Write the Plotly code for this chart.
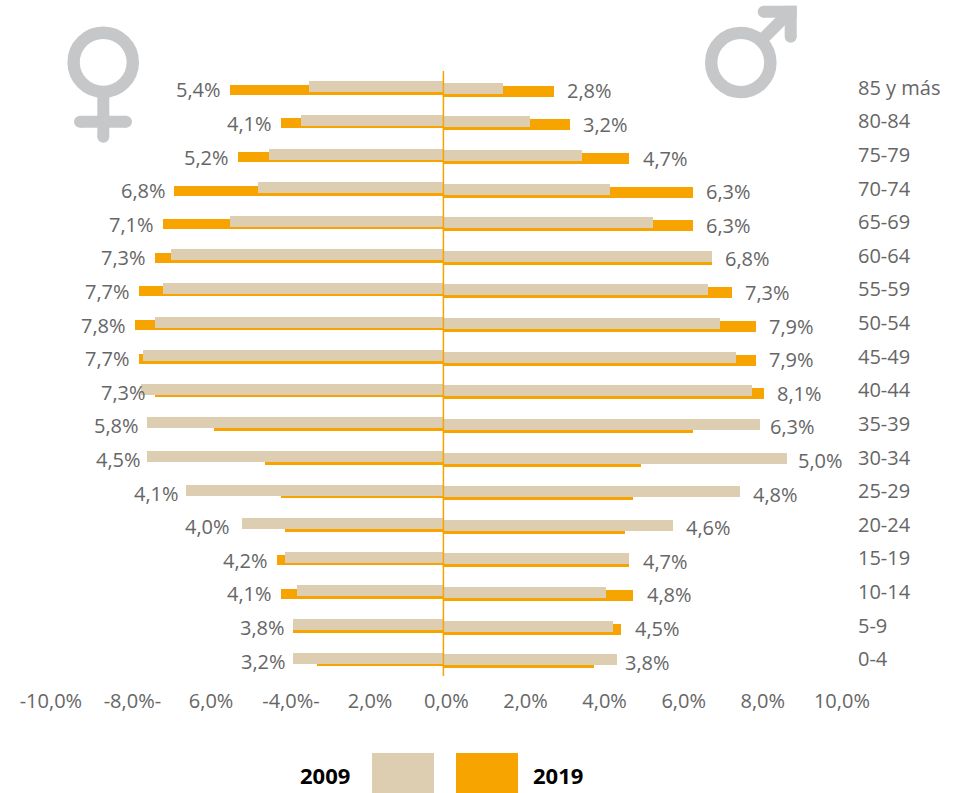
import plotly.graph_objects as go

ages = ["85 y más","80-84","75-79","70-74","65-69","60-64","55-59","50-54","45-49",
        "40-44","35-39","30-34","25-29","20-24","15-19","10-14","5-9","0-4"]
women_2019 = [5.4,4.1,5.2,6.8,7.1,7.3,7.7,7.8,7.7,7.3,5.8,4.5,4.1,4.0,4.2,4.1,3.8,3.2]
men_2019 = [2.8,3.2,4.7,6.3,6.3,6.8,7.3,7.9,7.9,8.1,6.3,5.0,4.8,4.6,4.7,4.8,4.5,3.8]
women_2009 = [3.4,3.6,4.4,4.7,5.4,6.9,7.1,7.3,7.6,7.65,7.5,7.5,6.5,5.1,4.0,3.7,3.8,3.8]
men_2009 = [1.5,2.2,3.5,4.2,5.3,6.8,6.7,7.0,7.4,7.8,8.0,8.7,7.5,5.8,4.7,4.1,4.3,4.4]
tick_values = [-10,-8,-6,-4,-2,0,2,4,6,8,10]
tick_labels = ["-10,0%","-8,0%-","6,0%","-4,0%-","2,0%","0,0%","2,0%","4,0%","6,0%","8,0%","10,0%"]

BEIGE = "#DDCDB1"
ORANGE = "#F7A400"
GREY = "#C6C7C9"
TEXT = "#666666"
FONT = "Open Sans"
W, H = 964, 793
L, R, T, B = 32, 852, 71.2, 676
ROW = 33.6
PX_PER_UNIT = 39.55
ZERO = 443.4
x_lo = -(ZERO - L) / PX_PER_UNIT
x_hi = (R - ZERO) / PX_PER_UNIT

# label gaps in the reference are hand placed
WOMEN_GAP = {"20-24": 10, "35-39": 6, "30-34": 4, "25-29": 5, "0-4": 5, "5-9": 6, "70-74": 6}
MEN_GAP = {"35-39": 8, "30-34": 9, "0-4": 6, "75-79": 12, "15-19": 12, "10-14": 12, "5-9": 12}
WOMEN_LABEL_ON_2019 = {"40-44"}
# tick labels on the negative side sit slightly right of their true position in the reference
TICK_NUDGE = {-8: 0.06, -6: 0.05, -4: 0.07, -2: 0.07}

def neg(v):
    return [-a for a in v]

def bar(vals, color, top, bottom, name):
    return go.Bar(y=ages, x=vals, orientation="h", name=name, marker=dict(color=color, line=dict(width=0)),
                  offset=top / ROW, width=(bottom - top) / ROW, showlegend=False, hoverinfo="x+y")

fig = go.Figure()
fig.add_trace(bar(neg(women_2019), ORANGE, -3, 7, "2019"))
fig.add_trace(bar(men_2019, ORANGE, -2, 9, "2019"))
fig.add_trace(bar(neg(women_2009), BEIGE, -6.5, 4.5, "2009"))
fig.add_trace(bar(men_2009, BEIGE, -5, 6, "2009"))

def pct(v):
    return f"{v:.1f}%".replace(".", ",")

annotations = []
for a, w19, w09, m19, m09 in zip(ages, women_2019, women_2009, men_2019, men_2009):
    wx = w19 if a in WOMEN_LABEL_ON_2019 else max(w19, w09)
    annotations.append(dict(x=-wx, y=a, xref="x", yref="y", text=pct(w19), showarrow=False, xanchor="right",
                            xshift=-WOMEN_GAP.get(a, 7), yshift=-2, font=dict(family=FONT, size=20, color=TEXT)))
    annotations.append(dict(x=max(m19, m09), y=a, xref="x", yref="y", text=pct(m19), showarrow=False, xanchor="left",
                            xshift=MEN_GAP.get(a, 11), yshift=-3, font=dict(family=FONT, size=20, color=TEXT)))

def fx(x):
    return (x - L) / (R - L)
def fy(y):
    return (B - y) / (B - T)

for label, cx in (("2009", 324.5), ("2019", 558)):
    annotations.append(dict(x=fx(cx), y=fy(775), xref="paper", yref="paper", text=f"<b>{label}</b>", showarrow=False,
                            xanchor="center", yanchor="middle", font=dict(family=FONT, size=22, color="#000000")))

def rect(x0, y0, x1, y1, color):
    return dict(type="rect", xref="paper", yref="paper", x0=fx(x0), x1=fx(x1), y0=fy(y0), y1=fy(y1),
                fillcolor=color, line=dict(width=0), layer="above")

def ring(cx, cy, r, w):
    return dict(type="circle", xref="paper", yref="paper", x0=fx(cx - r), x1=fx(cx + r), y0=fy(cy - r), y1=fy(cy + r),
                line=dict(color=GREY, width=w), fillcolor="rgba(0,0,0,0)", layer="above")

def dot(cx, cy, r):
    return dict(type="circle", xref="paper", yref="paper", x0=fx(cx - r), x1=fx(cx + r), y0=fy(cy - r), y1=fy(cy + r),
                line=dict(width=0), fillcolor=GREY, layer="above")

def stroke(x0, y0, x1, y1, w, cap0=True, cap1=True):
    out = [dict(type="line", xref="paper", yref="paper", x0=fx(x0), x1=fx(x1), y0=fy(y0), y1=fy(y1),
                line=dict(color=GREY, width=w), layer="above")]
    if cap0:
        out.append(dot(x0, y0, w / 2))
    if cap1:
        out.append(dot(x1, y1, w / 2))
    return out

shapes = [
    dict(type="line", xref="x", yref="paper", x0=0, x1=0, y0=0, y1=1, line=dict(color=ORANGE, width=1.5), layer="above"),
    rect(372, 753, 434, 793, BEIGE),
    rect(456, 753, 518, 793, ORANGE),
    ring(103.2, 62.5, 29.6, 12.4),
    ring(740.8, 62.7, 29.6, 12.4),
]
shapes += stroke(103.3, 95, 103.3, 137, 12, cap0=False)
shapes += stroke(80, 122, 126, 122, 12)
shapes += stroke(764, 38, 790, 12, 12, cap0=False, cap1=False)
shapes += stroke(763.7, 12, 796.7, 12, 12, cap1=False)
shapes += stroke(790.7, 37, 790.7, 6, 12, cap1=False)

fig.update_layout(
    width=W, height=H, autosize=False,
    margin=dict(l=L, r=W - R, t=T, b=H - B, pad=0),
    paper_bgcolor="white", plot_bgcolor="white",
    barmode="overlay", bargap=0,
    showlegend=False,
    font=dict(family=FONT, size=20, color=TEXT),
    annotations=annotations, shapes=shapes,
    xaxis=dict(range=[x_lo, x_hi], tickmode="array",
               tickvals=[v + TICK_NUDGE.get(v, 0) for v in tick_values], ticktext=tick_labels,
               showgrid=False, zeroline=False, showline=False, ticks="", ticklabelstandoff=11, ticklabelshift=3,
               tickfont=dict(family=FONT, size=20, color=TEXT)),
    yaxis=dict(type="category", categoryorder="array", categoryarray=ages, range=[17.5, -0.5], side="right",
               showgrid=False, zeroline=False, showline=False, ticks="", ticklabelstandoff=5,
               tickfont=dict(family=FONT, size=20, color=TEXT)),
)

fig.write_html("out.html", config=dict(displayModeBar=False),
               post_script="document.body.style.margin='0';document.body.style.overflow='hidden';")
